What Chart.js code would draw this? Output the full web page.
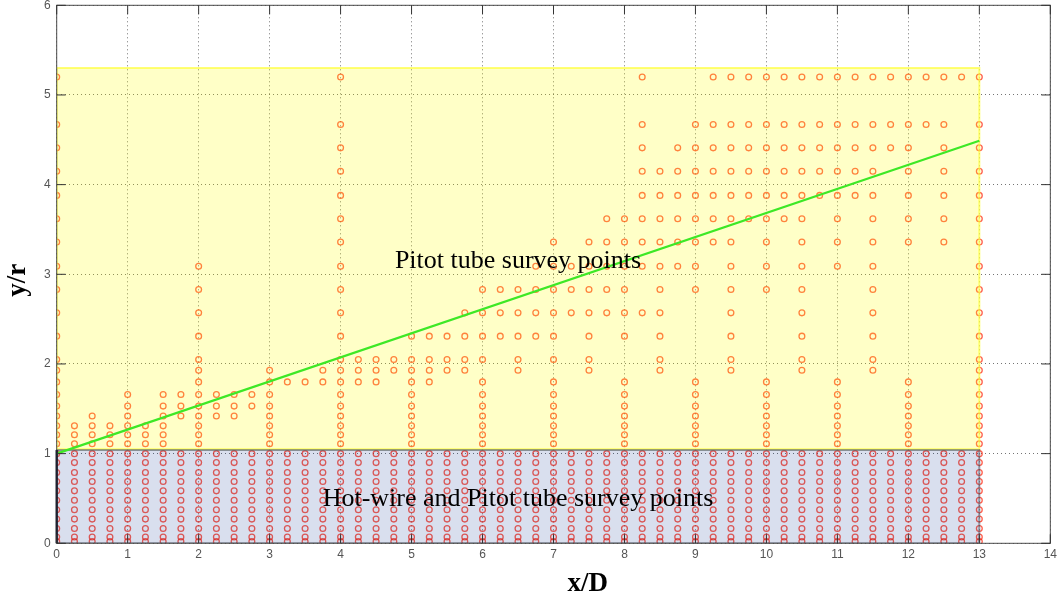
<!DOCTYPE html>
<html>
<head>
<meta charset="utf-8">
<title>Survey points</title>
<style>
  html, body { margin: 0; padding: 0; background: #fff; }
  canvas { display: block; }
</style>
<script src="https://cdn.jsdelivr.net/npm/chart.js@4.4.1/dist/chart.umd.min.js"></script>
</head>
<body>
<canvas id="surveyChart" width="1057" height="603"></canvas>
<script>
// streamwise stations x/D (shared by both surveys)
const stationX = [0, 0.25, 0.5, 0.75, 1, 1.25, 1.5, 1.75, 2, 2.25, 2.5, 2.75, 3, 3.25, 3.5, 3.75,
  4, 4.25, 4.5, 4.75, 5, 5.25, 5.5, 5.75, 6, 6.25, 6.5, 6.75, 7, 7.25, 7.5, 7.75, 8, 8.25, 8.5, 8.75,
  9, 9.25, 9.5, 9.75, 10, 10.25, 10.5, 10.75, 11, 11.25, 11.5, 11.75, 12, 12.25, 12.5, 12.75, 13];

// hot-wire + pitot heights, the same at every station
const hotwireY = [1.0, 0.9, 0.79, 0.69, 0.585, 0.48, 0.375, 0.27, 0.165, 0.07, 0.02];

// pitot-only heights above y/r = 1, one list per station
const pitotY = [
  [5.2, 4.67, 4.41, 4.15, 3.88, 3.62, 3.36, 3.09, 2.83, 2.57, 2.31, 2.05, 1.93, 1.8, 1.66, 1.53, 1.42, 1.31, 1.21, 1.11],
  [1.31, 1.21, 1.11],
  [1.42, 1.31, 1.21, 1.11],
  [1.31, 1.21, 1.11],
  [1.66, 1.53, 1.42, 1.31, 1.21, 1.11],
  [1.31, 1.21, 1.11],
  [1.66, 1.53, 1.42, 1.31, 1.21, 1.11],
  [1.66, 1.53, 1.42],
  [3.09, 2.83, 2.57, 2.31, 2.05, 1.93, 1.8, 1.66, 1.53, 1.42, 1.31, 1.21, 1.11],
  [1.66, 1.53, 1.42],
  [1.66, 1.53, 1.42],
  [1.66, 1.53],
  [1.93, 1.8, 1.66, 1.53, 1.42, 1.31, 1.21, 1.11],
  [1.8],
  [1.8],
  [1.93, 1.8],
  [5.2, 4.67, 4.41, 4.15, 3.88, 3.62, 3.36, 3.09, 2.83, 2.57, 2.31, 2.05, 1.93, 1.8, 1.66, 1.53, 1.42, 1.31, 1.21, 1.11],
  [2.05, 1.93, 1.8],
  [2.05, 1.93, 1.8],
  [2.05, 1.93],
  [2.31, 2.05, 1.93, 1.8, 1.66, 1.53, 1.42, 1.31, 1.21, 1.11],
  [2.31, 2.05, 1.93, 1.8],
  [2.31, 2.05, 1.93],
  [2.57, 2.31, 2.05, 1.93],
  [2.83, 2.57, 2.31, 2.05, 1.8, 1.66, 1.53, 1.42, 1.31, 1.21, 1.11],
  [2.83, 2.57, 2.31],
  [2.83, 2.57, 2.31, 2.05, 1.93],
  [3.09, 2.83, 2.57, 2.31],
  [3.36, 3.09, 2.83, 2.57, 2.31, 2.05, 1.8, 1.66, 1.53, 1.42, 1.31, 1.21, 1.11],
  [3.09, 2.83, 2.57],
  [3.36, 3.09, 2.83, 2.57, 2.31, 2.05, 1.93],
  [3.62, 3.36, 3.09, 2.83, 2.57],
  [3.62, 3.36, 3.09, 2.83, 2.57, 2.31, 1.8, 1.66, 1.53, 1.42, 1.31, 1.21, 1.11],
  [5.2, 4.67, 4.41, 4.15, 3.88, 3.62, 3.36, 3.09, 2.57],
  [4.15, 3.88, 3.62, 3.36, 3.09, 2.83, 2.57, 2.31, 2.05, 1.93],
  [4.41, 4.15, 3.88, 3.62, 3.36, 3.09],
  [4.67, 4.41, 4.15, 3.88, 3.62, 3.36, 3.09, 2.83, 1.8, 1.66, 1.53, 1.42, 1.31, 1.21, 1.11],
  [5.2, 4.67, 4.41, 4.15, 3.88, 3.62, 3.36],
  [5.2, 4.67, 4.41, 4.15, 3.88, 3.62, 3.36, 3.09, 2.83, 2.57, 2.31, 2.05, 1.93],
  [5.2, 4.67, 4.41, 4.15, 3.88, 3.62],
  [5.2, 4.67, 4.41, 4.15, 3.88, 3.62, 3.36, 3.09, 2.83, 1.8, 1.66, 1.53, 1.42, 1.31, 1.21, 1.11],
  [5.2, 4.67, 4.41, 4.15, 3.88, 3.62],
  [5.2, 4.67, 4.41, 4.15, 3.88, 3.62, 3.36, 3.09, 2.83, 2.57, 2.31, 2.05, 1.93],
  [5.2, 4.67, 4.41, 4.15, 3.88],
  [5.2, 4.67, 4.41, 4.15, 3.88, 3.62, 3.36, 3.09, 1.8, 1.66, 1.53, 1.42, 1.31, 1.21, 1.11],
  [5.2, 4.67, 4.41, 4.15, 3.88],
  [5.2, 4.67, 4.41, 4.15, 3.88, 3.62, 3.36, 3.09, 2.83, 2.57, 2.31, 2.05, 1.93],
  [5.2, 4.67, 4.41],
  [5.2, 4.67, 4.41, 4.15, 3.88, 3.62, 3.36, 1.8, 1.66, 1.53, 1.42, 1.31, 1.21, 1.11],
  [5.2, 4.67],
  [5.2, 4.67, 4.41, 4.15, 3.88, 3.62, 3.36],
  [5.2],
  [5.2, 4.67, 4.41, 4.15, 3.88, 3.62, 3.36, 3.09, 2.83, 2.57, 2.31, 2.05, 1.93, 1.8, 1.66, 1.53, 1.42, 1.31, 1.21, 1.11]
];

// straight edge line
const edgeX = [0, 13];
const edgeY = [1.0, 4.49];

// shaded survey regions
const regionX = [0, 13];
const pitotRegionY = [1.05, 5.3];
const hotwireRegionY = [0, 1.04];

// region captions
const captions = ['Pitot tube survey points', 'Hot-wire and Pitot tube survey points'];
const captionX = [6.5, 6.5];
const captionY = [3.07, 0.415];

const hotwirePoints = [];
stationX.forEach(x => hotwireY.forEach(y => hotwirePoints.push({x: x, y: y})));

const pitotPoints = [];
stationX.forEach((x, i) => pitotY[i].forEach(y => pitotPoints.push({x: x, y: y})));

function box(xs, ys) {
    return [
        {x: xs[0], y: ys[0]}, {x: xs[0], y: ys[1]},
        {x: xs[1], y: ys[1]}, {x: xs[1], y: ys[0]}, {x: xs[0], y: ys[0]}
    ];
}

const decorations = {
    id: 'decorations',
    afterDatasetsDraw(chart) {
        const {ctx, chartArea: a, scales: {x, y}} = chart;
        ctx.save();

        // axes box
        ctx.strokeStyle = '#4a4a4a';
        ctx.lineWidth = 1;
        ctx.strokeRect(a.left, a.top, a.right - a.left, a.bottom - a.top);

        // darker left edge of the lower region
        ctx.strokeStyle = 'rgba(20, 25, 40, 0.85)';
        ctx.lineWidth = 2.5;
        ctx.beginPath();
        ctx.moveTo(x.getPixelForValue(regionX[0]), y.getPixelForValue(hotwireRegionY[0]));
        ctx.lineTo(x.getPixelForValue(regionX[0]), y.getPixelForValue(hotwireRegionY[1]));
        ctx.stroke();

        // inward tick marks on all four sides
        ctx.strokeStyle = '#333';
        ctx.lineWidth = 1;
        ctx.beginPath();
        x.ticks.forEach(t => {
            const px = x.getPixelForValue(t.value);
            ctx.moveTo(px, a.bottom); ctx.lineTo(px, a.bottom - 9);
            ctx.moveTo(px, a.top); ctx.lineTo(px, a.top + 9);
        });
        y.ticks.forEach(t => {
            const py = y.getPixelForValue(t.value);
            ctx.moveTo(a.left, py); ctx.lineTo(a.left + 9, py);
            ctx.moveTo(a.right, py); ctx.lineTo(a.right - 9, py);
        });
        ctx.stroke();

        // region captions
        ctx.fillStyle = '#000';
        ctx.font = '26px "Liberation Serif", "Times New Roman", serif';
        ctx.textAlign = 'center';
        ctx.textBaseline = 'alphabetic';
        captions.forEach((txt, i) => {
            ctx.fillText(txt, x.getPixelForValue(captionX[i]), y.getPixelForValue(captionY[i]));
        });

        // axis titles
        ctx.font = 'bold 27px "Liberation Serif", "Times New Roman", serif';
        ctx.fillText('x/D', a.left + 531, a.bottom + 48);
        ctx.translate(25, a.top + 275);
        ctx.rotate(-Math.PI / 2);
        ctx.fillText('y/r', 0, 0);
        ctx.restore();
    }
};

const tickFont = {family: '"Liberation Sans", Arial, sans-serif', size: 12};
const markerColor = 'rgba(255, 35, 10, 0.72)';

new Chart('surveyChart', {
    type: 'scatter',
    data: {
        datasets: [
            {
                type: 'line',
                data: [{x: edgeX[0], y: edgeY[0]}, {x: edgeX[1], y: edgeY[1]}],
                borderColor: '#3de826',
                borderWidth: 2.2,
                pointRadius: 0,
                fill: false,
                order: 1
            },
            {
                type: 'line',
                data: box(regionX, hotwireRegionY),
                borderColor: 'rgba(70, 80, 100, 0.55)',
                borderWidth: 2,
                backgroundColor: 'rgba(0, 40, 140, 0.15)',
                pointRadius: 0,
                tension: 0,
                fill: 'shape',
                order: 2
            },
            {
                type: 'line',
                data: box(regionX, pitotRegionY),
                borderColor: 'rgba(255, 255, 60, 0.7)',
                borderWidth: 2,
                backgroundColor: 'rgba(255, 255, 0, 0.22)',
                pointRadius: 0,
                tension: 0,
                fill: 'shape',
                order: 3
            },
            {
                data: hotwirePoints,
                pointStyle: 'circle',
                pointRadius: 2.9,
                pointBorderWidth: 1.3,
                pointBackgroundColor: 'rgba(0,0,0,0)',
                pointBorderColor: markerColor,
                order: 10
            },
            {
                data: pitotPoints,
                pointStyle: 'circle',
                pointRadius: 2.9,
                pointBorderWidth: 1.3,
                pointBackgroundColor: 'rgba(0,0,0,0)',
                pointBorderColor: markerColor,
                order: 11
            }
        ]
    },
    options: {
        responsive: false,
        animation: false,
        layout: {padding: {top: 3.3, right: 6.7, left: 0, bottom: 0}},
        plugins: {legend: {display: false}, tooltip: {enabled: false}},
        scales: {
            x: {
                type: 'linear',
                min: 0,
                max: 14,
                ticks: {stepSize: 1, color: '#555', font: tickFont, padding: 4, maxRotation: 0},
                grid: {color: 'rgba(70,70,70,0.75)', drawTicks: false},
                border: {display: false, dash: [1, 3]},
                afterFit(scale) {
                    scale.height = 59.7;
                    scale.paddingLeft = 0;
                    scale.paddingRight = 0;
                }
            },
            y: {
                type: 'linear',
                min: 0,
                max: 6,
                ticks: {stepSize: 1, color: '#555', font: tickFont, padding: 6},
                grid: {color: 'rgba(70,70,70,0.75)', drawTicks: false},
                border: {display: false, dash: [1, 3]},
                afterFit(scale) {
                    scale.width = 56.7;
                    scale.paddingTop = 0;
                    scale.paddingBottom = 0;
                }
            }
        }
    },
    plugins: [decorations]
});
</script>
</body>
</html>
